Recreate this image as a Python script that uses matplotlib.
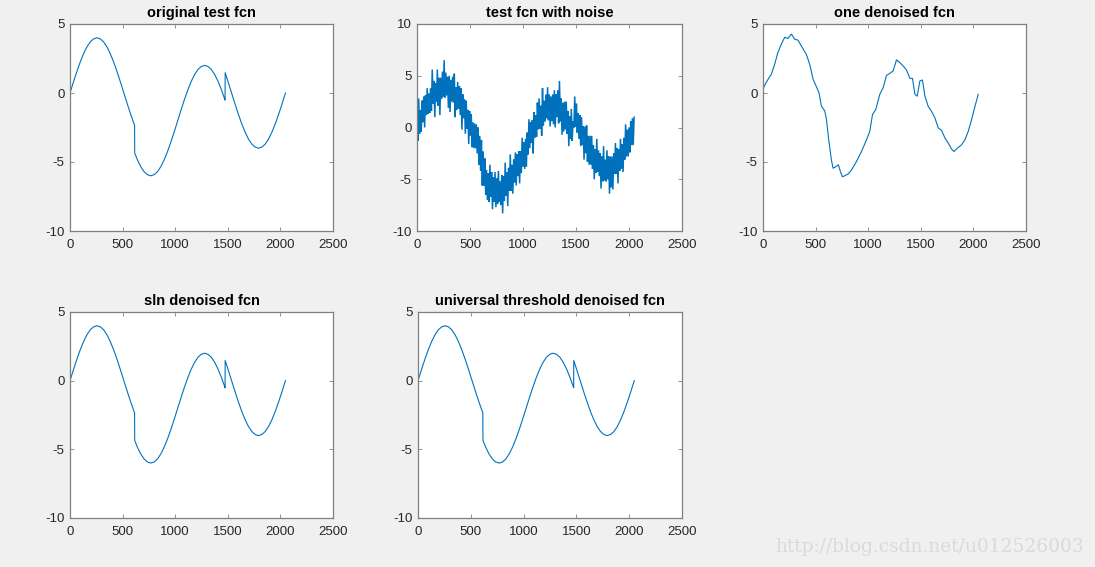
import matplotlib
matplotlib.use("Agg")
import matplotlib.pyplot as plt

# ---------------- data ----------------
# original test function (sampled points, with jumps at ~614 and ~1474)
orig_x = [0, 32, 64, 96, 128, 160, 192, 224, 256, 288, 320, 352, 384, 416, 448, 480,
          512, 544, 576, 608, 614, 615, 640, 672, 704, 736, 768, 800, 832, 864, 896,
          928, 960, 992, 1024, 1056, 1088, 1120, 1152, 1184, 1216, 1248, 1280, 1312,
          1344, 1376, 1408, 1440, 1472, 1474, 1475, 1504, 1536, 1568, 1600, 1632, 1664,
          1696, 1728, 1760, 1792, 1824, 1856, 1888, 1920, 1952, 1984, 2016, 2048]
orig_y = [0.0, 0.78, 1.53, 2.22, 2.83, 3.33, 3.70, 3.92, 4.00, 3.92, 3.70, 3.33, 2.83,
          2.22, 1.53, 0.78, 0.0, -0.78, -1.53, -2.22, -2.35, -4.35, -4.83, -5.33, -5.70,
          -5.92, -6.00, -5.92, -5.70, -5.33, -4.83, -4.22, -3.53, -2.78, -2.00, -1.22,
          -0.47, 0.22, 0.83, 1.33, 1.70, 1.92, 2.00, 1.92, 1.70, 1.33, 0.83, 0.22, -0.47,
          -0.52, 1.47, 0.78, 0.0, -0.78, -1.53, -2.22, -2.83, -3.33, -3.70, -3.92, -4.00,
          -3.92, -3.70, -3.33, -2.83, -2.22, -1.53, -0.78, 0.0]

# noisy signal, one value every 8 samples (x = 0, 8, ..., 2048)
noisy_step = 8
noisy_y = [
    1.3, -1.3, 2.8, -0.6, 1.7, -0.4, 2.6, 0.5, 3.0, 0.0, 3.1, 1.2, 3.8, 1.3, 3.3, 1.4,
    3.8, 1.6, 5.6, 2.3, 4.5, 1.0, 4.3, 2.5, 5.6, 2.1, 4.8, 1.2, 4.8, 2.8, 5.4, 3.0,
    6.5, 2.9, 5.3, 3.1, 4.9, 1.9, 5.0, 1.5, 4.6, 2.5, 4.9, 2.4, 5.2, 1.0, 3.9, 1.7,
    4.4, 1.8, 4.0, 1.2, 3.8, -0.2, 3.2, 0.9, 2.7, -0.6, 2.6, -0.1, 1.7, -1.6, 1.6, -0.8,
    1.3, -1.9, 0.5, -2.0, 0.4, -2.0, 0.3, -2.5, 0.0, -3.6, -0.8, -4.2, -1.2, -5.6, -2.3, -5.6,
    -3.0, -6.5, -4.1, -7.0, -4.4, -7.2, -3.6, -6.7, -4.3, -7.9, -4.8, -7.2, -4.3, -7.7, -4.9, -7.4,
    -4.2, -7.2, -5.2, -7.5, -4.6, -8.3, -4.7, -7.1, -3.4, -6.6, -4.3, -7.6, -3.9, -6.1, -2.6, -6.1,
    -3.6, -6.4, -3.1, -5.3, -2.4, -5.6, -2.6, -4.7, -2.3, -5.4, -2.3, -4.4, -1.0, -3.8, -1.4, -4.0,
    -1.1, -3.8, -0.5, -2.6, 0.8, -2.0, 0.5, -1.5, 0.7, -2.5, 1.5, -1.0, 1.2, -0.9, 2.4, -0.2,
    2.8, -0.1, 2.1, -0.8, 3.8, 0.2, 2.6, 0.6, 3.2, 0.9, 3.9, 0.7, 3.2, 0.1, 3.0, 0.6,
    3.2, 0.3, 3.6, 0.0, 3.2, 1.0, 3.6, 0.4, 4.5, 0.6, 2.8, -0.7, 2.4, -0.4, 2.5, -0.2,
    2.5, -0.6, 1.6, -1.8, 1.1, -1.1, 1.8, -1.3, 0.6, 0.0, 3.0, 0.1, 2.3, -0.5, 1.4, -1.1,
    1.2, -1.8, 1.0, -1.7, 0.1, -3.1, 0.1, -2.5, 0.2, -3.3, -0.8, -3.6, -0.8, -3.6, -0.8, -4.0,
    -1.7, -5.0, -2.1, -4.4, -1.1, -4.3, -2.2, -4.7, -2.5, -5.9, -2.8, -5.2, -1.8, -5.1, -3.1, -5.2,
    -2.2, -5.0, -2.8, -6.4, -2.8, -5.8, -2.8, -6.0, -2.5, -4.5, -1.5, -4.5, -2.0, -5.4, -2.1, -4.2,
    -1.1, -4.0, -1.6, -4.3, -1.0, -3.1, 0.3, -2.8, -0.2, -2.8, 0.0, -2.4, 0.6, -1.7, 0.9, -1.7,
    1.0]
noisy_x = [i * noisy_step for i in range(len(noisy_y))]

# one-level denoised function
one_x = [0, 32, 57, 79, 111, 140, 175, 206, 238, 270, 301, 333, 365, 412, 444, 476, 508,
         533, 555, 587, 603, 625, 650, 666, 692, 717, 736, 755, 777, 809, 841, 888, 936,
         984, 1015, 1041, 1072, 1110, 1142, 1174, 1206, 1237, 1269, 1301, 1332, 1364,
         1396, 1421, 1444, 1466, 1491, 1516, 1539, 1570, 1602, 1634, 1666, 1697, 1729,
         1761, 1793, 1815, 1847, 1888, 1919, 1951, 1983, 2015, 2046]
one_y = [0.31, 0.79, 1.1, 1.35, 2.08, 2.9, 3.55, 4.03, 3.95, 4.27, 3.9, 3.83, 3.4, 2.8,
         2.08, 1.0, 0.45, 0.0, -0.95, -1.3, -1.9, -3.4, -4.85, -5.45, -5.34, -5.2, -5.7,
         -6.07, -6.0, -5.87, -5.58, -4.97, -4.24, -3.39, -2.78, -1.56, -1.2, -0.1, 0.38,
         1.28, 1.42, 1.6, 2.4, 2.2, 1.96, 1.67, 1.06, 1.06, -0.1, -0.23, 0.87, 0.94,
         -0.23, -0.96, -1.33, -1.8, -2.54, -2.7, -3.26, -3.63, -4.07, -4.24, -4.0, -3.75,
         -3.39, -2.78, -1.93, -0.96, -0.1]

# SLN and universal-threshold denoised (visually identical to the original)
sln_x = list(orig_x)
sln_y = list(orig_y)
univ_x = list(orig_x)
univ_y = list(orig_y)

titles = ["original test fcn", "test fcn with noise", "one denoised fcn",
          "sln denoised fcn", "universal threshold denoised fcn"]
xticks = [0, 500, 1000, 1500, 2000, 2500]
yticks_a = [-10, -5, 0, 5]
yticks_b = [-10, -5, 0, 5, 10]

# ---------------- figure ----------------
plt.rcParams['font.family'] = ['Liberation Sans', 'DejaVu Sans']
plt.rcParams['axes.unicode_minus'] = False
W, H = 1095, 567
fig = plt.figure(figsize=(W / 100, H / 100), dpi=100, facecolor='#f0f0f0')

def box(l, t, r, b):
    return [l / W, 1 - b / H, (r - l) / W, (b - t) / H]

rects = [box(70, 24, 333, 231), box(417, 24, 682, 231), box(763, 24, 1026, 231),
         box(70, 312, 333, 518), box(418, 312, 682, 518)]
series = [(orig_x, orig_y), (noisy_x, noisy_y), (one_x, one_y),
          (sln_x, sln_y), (univ_x, univ_y)]
ylims = [(-10, 5), (-10, 10), (-10, 5), (-10, 5), (-10, 5)]
yts = [yticks_a, yticks_b, yticks_a, yticks_a, yticks_a]

for k in range(5):
    ax = fig.add_axes(rects[k])
    x, y = series[k]
    lw = 1.1 if k == 1 else 0.8
    ax.plot(x, y, color='#0072BD', lw=lw, solid_joinstyle='miter' if k == 1 else 'round')
    ax.set_xlim(0, 2500)
    ax.set_ylim(*ylims[k])
    ax.set_xticks(xticks)
    ax.set_yticks(yts[k])
    ax.set_title(titles[k], fontsize=10.5, fontweight='bold', color='#000000', pad=5)
    ax.tick_params(direction='in', length=3, width=0.6, color='#808080',
                   labelsize=9.5, labelcolor='#262626', top=True, right=True)
    ax.tick_params(axis='x', pad=6)
    ax.tick_params(axis='y', pad=4)
    for s in ax.spines.values():
        s.set_color('#808080')
        s.set_linewidth(0.9)
    ax.set_facecolor('white')

fig.text(1084 / W, 1 - 547 / H, "http://blog.csdn.net/u012526003", ha='right',
         va='center', fontsize=13.4, color='#dadada', family=['DejaVu Serif'])

fig.savefig("out.png", dpi=100, facecolor=fig.get_facecolor())
